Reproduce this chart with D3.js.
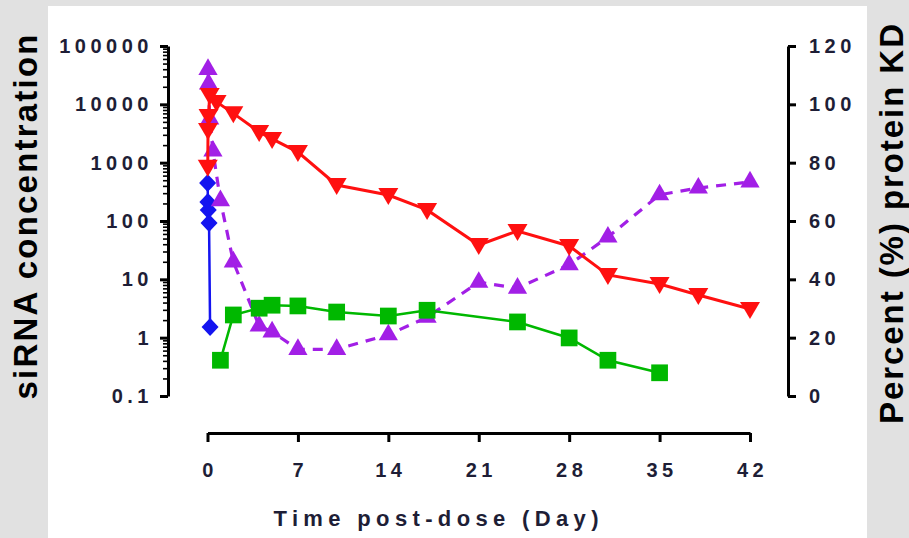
<!DOCTYPE html>
<html>
<head>
<meta charset="utf-8">
<script src="https://cdn.jsdelivr.net/npm/d3@7.9.0/dist/d3.min.js"></script>
<style>
  body { margin: 0; background: #e1e1e1; }
  svg { display: block; }
  text { font-family: "Liberation Sans", Arial, sans-serif; font-weight: bold; }
</style>
</head>
<body>
<svg width="909" height="538"></svg>
<script>
// values
const xTicks = [0, 7, 14, 21, 28, 35, 42];
const logTicks = [0.1, 1, 10, 100, 1000, 10000, 100000];
const logTickLabels = ['0.1', '1', '10', '100', '1000', '10000', '100000'];
const pctTicks = [0, 20, 40, 60, 80, 100, 120];

const blueDays = [0.01, 0.03, 0.06, 0.12, 0.2];
const blueConc = [450, 212, 155, 92, 1.52];

const redDays = [0.02, 0.04, 0.08, 0.17, 0.7, 2, 4, 5, 7, 10, 14, 17, 21, 24, 28, 31, 35, 38, 42];
const redConc = [850, 3640, 6300, 14500, 11000, 7000, 3360, 2550, 1520, 414, 279, 155, 38.8, 67.5, 37.3, 11.9, 8.3, 5.4, 3.1];

const greenDays = [1, 2, 4, 5, 7, 10, 14, 17, 24, 28, 31, 35];
const greenConc = [0.41, 2.45, 3.2, 3.6, 3.5, 2.75, 2.35, 2.95, 1.86, 0.99, 0.41, 0.25];

const purpleDays = [0.04, 0.08, 0.17, 0.42, 1, 2, 4, 5, 7, 10, 14, 17, 21, 24, 28, 31, 35, 38, 42];
const purplePct = [112, 107, 95, 84, 67, 46, 24, 22, 16, 16, 21, 27, 39, 37, 45, 54.5, 69, 71.3, 73.4];

const svg = d3.select('svg');
const tickColor = '#1e1e36';

svg.append('rect').attr('width', 909).attr('height', 538).attr('fill', '#e1e1e1');
svg.append('rect').attr('x', 48).attr('y', 6).attr('width', 819).attr('height', 532).attr('fill', '#fff');

const x = d3.scaleLinear().domain([0, 42]).range([207.5, 750]);
const yL = d3.scaleLog().domain([0.1, 100000]).range([396, 46]);
const yR = d3.scaleLinear().domain([0, 120]).range([396, 46]);

// left log axis, minor ticks first
let minor = [];
for (let e = -1; e < 5; e++) {
  for (let m = 2; m < 10; m++) minor.push(m * Math.pow(10, e));
}
svg.append('g')
  .attr('transform', 'translate(168,0)')
  .call(d3.axisLeft(yL).tickValues(minor).tickSize(5).tickFormat(''))
  .call(g => g.select('.domain').remove())
  .call(g => g.selectAll('line').attr('stroke-width', 1.6));

const leftAxis = svg.append('g')
  .attr('transform', 'translate(168,0)')
  .call(d3.axisLeft(yL).tickValues(logTicks).tickSize(8).tickSizeOuter(0).tickPadding(7)
    .tickFormat((d, i) => logTickLabels[i]));

const rightAxis = svg.append('g')
  .attr('transform', 'translate(788,0)')
  .call(d3.axisRight(yR).tickValues(pctTicks).tickSize(8).tickSizeOuter(0).tickPadding(13));

const bottomAxis = svg.append('g')
  .attr('transform', 'translate(0,433)')
  .call(d3.axisBottom(x).tickValues(xTicks).tickSize(9).tickSizeOuter(0).tickPadding(21));

[leftAxis, rightAxis, bottomAxis].forEach(g => {
  g.select('.domain').attr('stroke-width', 3).attr('stroke', '#000');
  g.selectAll('.tick line').attr('stroke-width', 3).attr('stroke', '#000');
  g.selectAll('.tick text')
    .attr('fill', tickColor)
    .style('font-size', '20px')
    .style('letter-spacing', '4.5px');
});
bottomAxis.selectAll('.tick text').attr('dx', 2);

// axis titles
svg.append('text')
  .attr('transform', 'translate(37,217) rotate(-90)')
  .attr('text-anchor', 'middle')
  .attr('textLength', 365)
  .attr('lengthAdjust', 'spacing')
  .style('font-size', '33px')
  .attr('fill', '#000')
  .text('siRNA concentration');

svg.append('text')
  .attr('transform', 'translate(903,224) rotate(-90)')
  .attr('text-anchor', 'middle')
  .attr('textLength', 400)
  .attr('lengthAdjust', 'spacing')
  .style('font-size', '33px')
  .attr('fill', '#000')
  .text('Percent (%) protein KD');

svg.append('text')
  .attr('x', 436).attr('y', 526)
  .attr('text-anchor', 'middle')
  .attr('textLength', 325)
  .attr('lengthAdjust', 'spacing')
  .style('font-size', '22px')
  .attr('fill', tickColor)
  .text('Time post-dose (Day)');

// series
function drawSeries(days, vals, yScale, color, width, dash, symbolPath) {
  const pts = days.map((d, i) => [x(d), yScale(vals[i])]);
  svg.append('path')
    .attr('d', d3.line()(pts))
    .attr('fill', 'none')
    .attr('stroke', color)
    .attr('stroke-width', width)
    .attr('stroke-dasharray', dash);
  svg.append('g').selectAll('path')
    .data(pts)
    .join('path')
    .attr('transform', d => `translate(${d[0]},${d[1]})`)
    .attr('d', symbolPath)
    .attr('fill', color);
}

const diamond = 'M0,-9L8.5,0L0,9L-8.5,0Z';
const upTri = d3.symbol().type(d3.symbolTriangle).size(160)();
const square = d3.symbol().type(d3.symbolSquare).size(280)();
const downTri = 'M-10,-7L10,-7L0,10Z';

drawSeries(blueDays, blueConc, yL, '#1414f0', 2.5, null, diamond);
drawSeries(purpleDays, purplePct, yR, '#a21fe6', 3.2, '10,8', upTri);
drawSeries(redDays, redConc, yL, '#ff1010', 3, null, downTri);
drawSeries(greenDays, greenConc, yL, '#00b800', 2.6, null, square);
</script>
</body>
</html>
